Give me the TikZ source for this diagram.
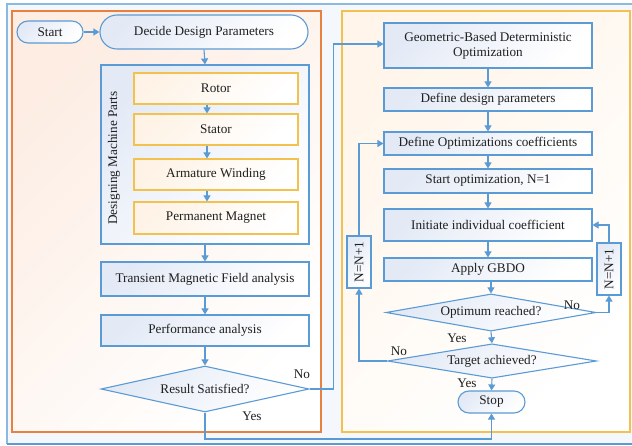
\documentclass[tikz,border=0pt]{standalone}
\usepackage{fontspec}
\setmainfont{Liberation Serif}
\usetikzlibrary{shapes.geometric,arrows.meta,calc}
\definecolor{lblue}{HTML}{5B9BD5}
\definecolor{lorange}{HTML}{E8803F}
\definecolor{lyellow}{HTML}{F2C14E}
\definecolor{fblue}{HTML}{E3EAF6}
\definecolor{forange}{HTML}{FDEDE3}
\definecolor{fyel}{HTML}{FEF3E6}
\definecolor{fcream}{HTML}{FFF5EA}
\definecolor{outbg}{HTML}{F4F7FB}
\begin{document}
\begin{tikzpicture}[x=1pt,y=-1pt,
  every node/.style={font=\fontsize{13.2}{15}\selectfont, text=black!88},
  ln/.style={draw=lblue, line width=1.1pt},
  arr/.style={ln, -{Triangle[length=6pt,width=7pt]}},
  bbox/.style={rectangle, draw=lblue, line width=1.1pt, left color=fblue, right color=white, shading angle=45, inner sep=0pt},
  ybox/.style={rectangle, draw=lyellow, line width=1.1pt, left color=fyel, right color=white, shading angle=45, inner sep=0pt},
  dia/.style={diamond, aspect=4, draw=lblue, line width=1.1pt, left color=fblue, right color=white, shading angle=45, inner sep=0pt},
  term/.style={rectangle, draw=lblue, line width=1.1pt, left color=fblue, right color=white, shading angle=45, inner sep=0pt},
  lbl/.style={inner sep=0pt}
]
\clip (0,0) rectangle (632,446);
% frames
\path[fill=outbg] (7,4) rectangle (640,444);
\draw[lblue!70, line width=2pt] (7,444) -- (7,4) -- (640,4);
\draw[lblue, line width=1.2pt] (7,444) -- (640,444);
\path[draw=lorange, line width=1.2pt, left color=forange, right color=white, shading angle=45] (12,11) rectangle (321,432);
\path[draw=lyellow, line width=1.2pt, left color=fcream, right color=white, shading angle=45] (342,11) rectangle (630,432);

% left column
\node[term, rounded corners=11pt, minimum width=66pt, minimum height=22pt] (start) at (50,32) {Start};
\node[term, rounded corners=17pt, minimum width=208pt, minimum height=34pt] (decide) at (204,32) {Decide Design Parameters};
\node[bbox, minimum width=208pt, minimum height=179pt] (dmp) at (205,154.5) {};
\node[lbl, rotate=90] (dmplbl) at (114,158) {Designing Machine Parts};
\node[ybox, minimum width=164pt, minimum height=31pt] (rotor) at (216,88.5) {Rotor};
\node[ybox, minimum width=164pt, minimum height=31pt] (stator) at (216,129.5) {Stator};
\node[ybox, minimum width=164pt, minimum height=31pt] (arm) at (216,174.5) {Armature Winding};
\node[ybox, minimum width=164pt, minimum height=32pt] (pm) at (216,218) {Permanent Magnet};
\node[bbox, minimum width=208pt, minimum height=34pt] (trans) at (205,279) {Transient Magnetic Field analysis};
\node[bbox, minimum width=208pt, minimum height=31pt] (perf) at (205,330.5) {Performance analysis};
\node[dia, minimum width=208pt, minimum height=46pt] (res) at (205,389) {Result Satisfied?};

% right column
\node[bbox, minimum width=208pt, minimum height=45pt, align=center] (gbdo) at (488,45.5) {Geometric-Based Deterministic\\Optimization};
\node[bbox, minimum width=208pt, minimum height=23pt] (ddp) at (488,99.5) {Define design parameters};
\node[bbox, minimum width=208pt, minimum height=23pt] (doc) at (488,143.5) {Define Optimizations coefficients};
\node[bbox, minimum width=208pt, minimum height=24pt] (sopt) at (488,181) {Start optimization, N=1};
\node[bbox, minimum width=208pt, minimum height=32pt] (init) at (488,225) {Initiate individual coefficient};
\node[bbox, minimum width=208pt, minimum height=23pt] (apply) at (488,269.5) {Apply GBDO};
\node[dia, minimum width=210pt, minimum height=31pt] (opt) at (491,312.5) {Optimum reached?};
\node[dia, minimum width=209pt, minimum height=30pt] (target) at (492,361) {Target achieved?};
\node[term, rounded corners=11pt, minimum width=67pt, minimum height=22pt] (stop) at (491.5,402) {Stop};
\node[bbox, minimum width=24pt, minimum height=52pt] (nL) at (359,262) {};
\node[lbl, rotate=90] at (nL) {N=N+1};
\node[bbox, minimum width=24pt, minimum height=52pt] (nR) at (609,269) {};
\node[lbl, rotate=90] at (nR) {N=N+1};

% connectors left
\draw[arr] (start) -- (decide);
\draw[arr] (decide.south) -- (dmp.north);
\draw[arr] ([xshift=-9pt]rotor.south) -- ([xshift=-9pt]stator.north);
\draw[arr] ([xshift=-9pt]stator.south) -- ([xshift=-9pt]arm.north);
\draw[arr] ([xshift=-9pt]arm.south) -- ([xshift=-9pt]pm.north);
\draw[arr] (dmp.south) -- (trans.north);
\draw[arr] (trans.south) -- (perf.north);
\draw[arr] (perf.south) -- (res.north);
\coordinate (bot) at (0,439);
\draw[arr] (res.east) -- ++(24,0) |- ([yshift=1.5pt]gbdo.west);
\draw[arr] (res.south) |- (stop.south |- bot) -- (stop.south);

% connectors right
\draw[arr] (gbdo) -- (ddp);
\draw[arr] (ddp) -- (doc);
\draw[arr] (doc) -- (sopt);
\draw[arr] (sopt) -- (init);
\draw[arr] (init) -- (apply);
\draw[arr] (opt.north |- apply.south) -- (opt.north);
\draw[arr] (opt.south) -- (target.north);
\draw[arr] (target.south) -- (stop.north);
\draw[arr] (opt.east) -| (nR.south);
\draw[arr] (nR.north) |- (init.east);
\draw[arr] (target.west) -| (nL.south);
\draw[arr] (nL.north) |- (doc.west);

% labels
\node[lbl] at (302,374) {No};
\node[lbl] at (252,416) {Yes};
\node[lbl] at (572,305) {No};
\node[lbl] at (457,338) {Yes};
\node[lbl] at (399,351) {No};
\node[lbl] at (467,383) {Yes};
\end{tikzpicture}
\end{document}
